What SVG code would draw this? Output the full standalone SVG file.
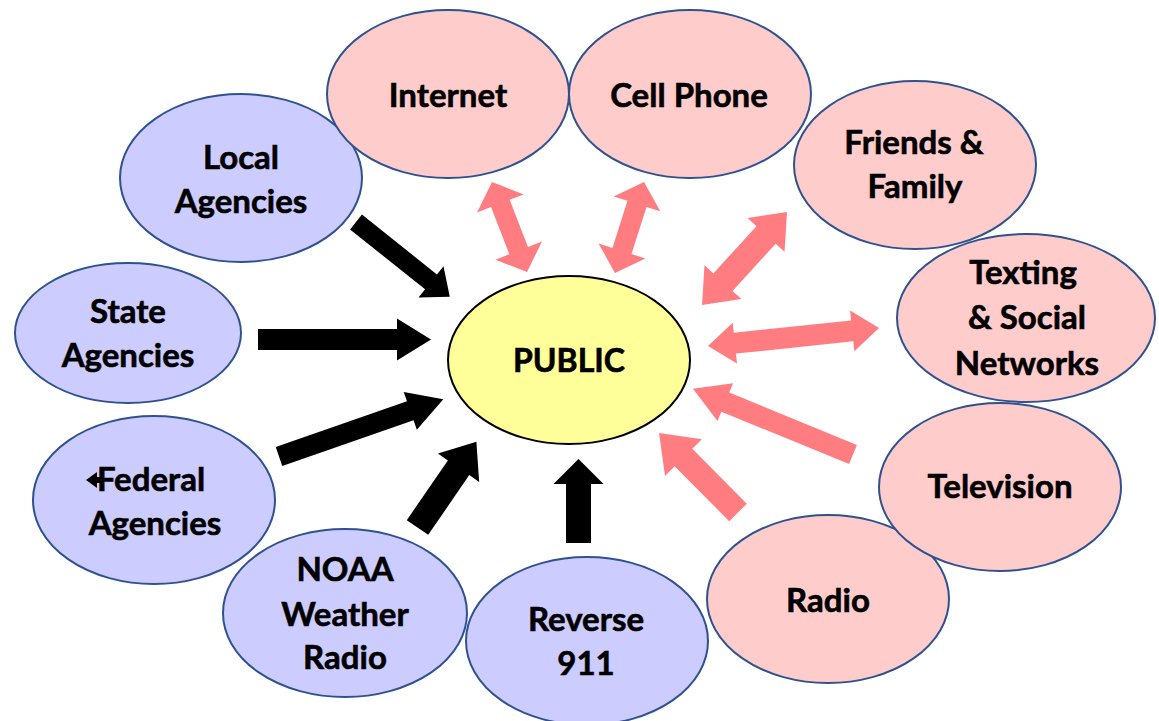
<svg xmlns="http://www.w3.org/2000/svg" width="1159" height="721" viewBox="0 0 1159 721">
<style>
.blue{fill:#CCCCFF;stroke:#2F528F;stroke-width:2}
.pink{fill:#FFCCCC;stroke:#2F528F;stroke-width:2}
.pub{fill:#FFFF99;stroke:#000;stroke-width:2}
text{font-family:Lato,"Open Sans","Liberation Sans",sans-serif;font-weight:bold;font-size:33px;fill:#000;stroke:#000;stroke-width:0.6;text-anchor:middle}
.blk{fill:#000}
.pk{fill:#FF7C80}
</style>
<rect width="1159" height="721" fill="#fff"/>
<g id="node-local"><ellipse class="blue" cx="241" cy="178" rx="121" ry="84"/><text x="241" y="169">Local</text><text x="241" y="213">Agencies</text></g>
<g id="node-state"><ellipse class="blue" cx="128" cy="333" rx="113" ry="70"/><text x="128" y="323">State</text><text x="128" y="367">Agencies</text></g>
<g id="node-federal"><ellipse class="blue" cx="154" cy="500" rx="121" ry="84"/><text x="151" y="491">Federal</text><polygon points="86,480 97,472 97,477 101,477 101,483 97,483 97,488" fill="#000"/><text x="155" y="535">Agencies</text></g>
<g id="node-noaa"><ellipse class="blue" cx="345" cy="613" rx="122" ry="84"/><text x="345" y="581">NOAA</text><text x="345" y="626">Weather</text><text x="345" y="669">Radio</text></g>
<g id="node-reverse"><ellipse class="blue" cx="587" cy="641" rx="121" ry="84"/><text x="586" y="631">Reverse</text><text x="586" y="675">911</text></g>
<g id="node-radio"><ellipse class="pink" cx="828" cy="599" rx="121" ry="84"/><text x="828" y="612">Radio</text></g>
<g id="node-television"><ellipse class="pink" cx="1000" cy="487" rx="121" ry="84"/><text x="1000" y="498">Television</text></g>
<g id="node-texting"><ellipse class="pink" cx="1026" cy="318" rx="129" ry="84"/><text x="1023" y="284">Texting</text><text x="1027" y="329">&amp; Social</text><text x="1027" y="375">Networks</text></g>
<g id="node-friends"><ellipse class="pink" cx="915" cy="165" rx="121" ry="84"/><text x="914" y="154">Friends &amp;</text><text x="915" y="198">Family</text></g>
<g id="node-cell"><ellipse class="pink" cx="690" cy="94" rx="121" ry="84"/><text x="689" y="107">Cell Phone</text></g>
<g id="node-internet"><ellipse class="pink" cx="448" cy="94" rx="121" ry="84"/><text x="448" y="107">Internet</text></g>
<g id="node-public"><ellipse class="pub" cx="569" cy="360" rx="121" ry="84"/><text x="569" y="372" style="font-size:32px">PUBLIC</text></g>
<g id="connectors">
<polygon class="blk" transform="translate(356,222) rotate(38.6)" points="0,-9.5 96,-9.5 96,-20 120,0 96,20 96,9.5 0,9.5"/>
<polygon class="blk" transform="translate(258,339.5)" points="0,-10.5 139,-10.5 139,-21 173,0 139,21 139,10.5 0,10.5"/>
<polygon class="blk" transform="translate(279,456.5) rotate(-19.2)" points="0,-10 139,-10 139,-20 174,0 139,20 139,10 0,10"/>
<polygon class="blk" transform="translate(417.5,527.5) rotate(-55.5)" points="0,-13 72.5,-13 72.5,-25 104,0 72.5,25 72.5,13 0,13"/>
<polygon class="blk" transform="translate(578.5,543) rotate(-90)" points="0,-12.5 59,-12.5 59,-25 84,0 59,25 59,12.5 0,12.5"/>
<polygon class="pk" transform="translate(853,454.5) rotate(-157.7)" points="0,-10.3 138,-10.3 138,-20.5 173,0 138,20.5 138,10.3 0,10.3"/>
<polygon class="pk" transform="translate(738,512.5) rotate(-134.8)" points="0,-12.4 77.4,-12.4 77.4,-26 112,0 77.4,26 77.4,12.4 0,12.4"/>
<polygon class="pk" transform="translate(492,182) rotate(68.75)" points="0,0 23,-25 23,-10 73.6,-10 73.6,-25 96.6,0 73.6,25 73.6,10 23,10 23,25"/>
<polygon class="pk" transform="translate(644,182) rotate(107.7)" points="0,0 23,-24.5 23,-10 72.5,-10 72.5,-24.5 95.5,0 72.5,24.5 72.5,10 23,10 23,24.5"/>
<polygon class="pk" transform="translate(787,212) rotate(132.4)" points="0,0 31,-25 31,-13 95,-13 95,-25 126,0 95,25 95,13 31,13 31,25"/>
<polygon class="pk" transform="translate(708,346) rotate(-6)" points="0,0 27,-20.5 27,-10.5 145,-10.5 145,-20.5 172,0 145,20.5 145,10.5 27,10.5 27,20.5"/>
</g>
</svg>
